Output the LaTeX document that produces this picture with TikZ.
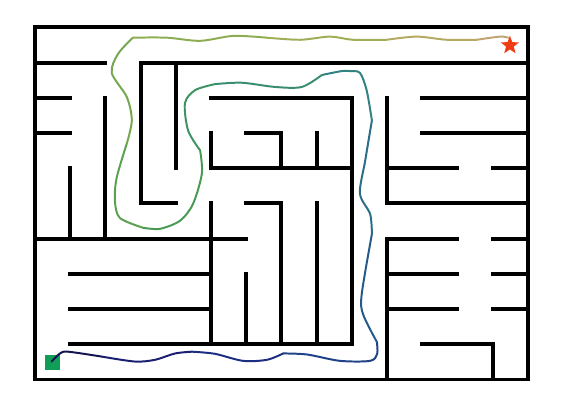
\documentclass[tikz,border=0pt]{standalone}
\usetikzlibrary{shapes.geometric}

% Colours of the route, from the start to the goal
\definecolor{startgreen}{HTML}{0F9D58}
\definecolor{goalred}{HTML}{F03C14}
\definecolor{rA}{HTML}{141450}
\definecolor{rB}{HTML}{1A1F72}
\definecolor{rC}{HTML}{1C2E80}
\definecolor{rD}{HTML}{1F4286}
\definecolor{rE}{HTML}{255A8A}
\definecolor{rF}{HTML}{2C6E8A}
\definecolor{rG}{HTML}{328282}
\definecolor{rH}{HTML}{388D72}
\definecolor{rI}{HTML}{3E9362}
\definecolor{rJ}{HTML}{489A55}
\definecolor{rK}{HTML}{5CA150}
\definecolor{rL}{HTML}{74A850}
\definecolor{rM}{HTML}{8CAD52}
\definecolor{rN}{HTML}{A2AD58}
\definecolor{rO}{HTML}{B4AA62}
\definecolor{rP}{HTML}{C0A572}

\begin{document}
\begin{tikzpicture}[x=1cm, y=-1cm,
    wall/.style={line width=3.2pt, line cap=rect},
    route/.style={line width=1.6pt, line cap=round, line join=round}]

    \useasboundingbox (-0.994,-0.78) rectangle (14.97,10.72);

    % Outer frame of the maze
    \draw[wall] (0,0) rectangle (14,10);

    % Horizontal walls: row/from/to
    \foreach \j/\a/\b in {1/0/2, 1/3/14,
                          2/0/1, 2/5/9, 2/11/14,
                          3/0/1, 3/6/7, 3/11/14,
                          4/5/9, 4/10/12, 4/13/14,
                          5/3/4, 5/6/7, 5/10/14,
                          6/0/6, 6/10/12, 6/13/14,
                          7/1/5, 7/10/12, 7/13/14,
                          8/1/5, 8/10/12, 8/13/14,
                          9/1/9, 9/11/13} {
        \draw[wall] (\a,\j) -- (\b,\j);
    }

    % Vertical walls: column/from/to
    \foreach \i/\a/\b in {1/4/6, 2/2/6, 3/1/5, 4/1/4,
                          5/3/4, 5/5/9, 6/7/9,
                          7/3/4, 7/5/9, 8/3/4, 8/5/9,
                          9/2/9, 10/2/5, 10/6/10, 13/9/10} {
        \draw[wall] (\i,\a) -- (\i,\b);
    }

    % Start square and goal star
    \node[fill=startgreen, minimum size=0.43cm, inner sep=0pt] (start) at (0.5,9.51) {};
    \node[star, star points=5, star point ratio=2.4, fill=goalred,
          minimum size=0.55cm, inner sep=0pt] (goal) at (13.49,0.51) {};

    % The route, in pieces that shade from dark blue to tan
    \draw[route, rA] plot[smooth] coordinates {(0.47,9.49) (0.71,9.26) (0.94,9.21) (1.90,9.35)};
    \draw[route, rB] plot[smooth] coordinates {(1.90,9.35) (2.84,9.49) (3.41,9.44) (3.98,9.26) (4.46,9.21)};
    \draw[route, rC] plot[smooth] coordinates {(4.46,9.21) (5.11,9.27) (5.91,9.47) (6.59,9.44) (7.05,9.26)};
    \draw[route, rD] plot[smooth] coordinates {(7.05,9.26) (7.73,9.29) (8.66,9.47) (9.52,9.47) (9.72,9.27) (9.71,8.93)};
    \draw[route, rE] plot[smooth] coordinates {(9.71,8.93) (9.32,8.15) (9.28,7.58) (9.57,5.87)};
    \draw[route, rF] plot[smooth] coordinates {(9.57,5.87) (9.52,5.30) (9.23,4.72) (9.38,3.78) (9.57,2.64)};
    \draw[route, rG] plot[smooth] coordinates {(9.57,2.64) (9.42,1.78) (9.23,1.29) (8.95,1.24) (8.71,1.24) (8.15,1.35)};
    \draw[route, rH] plot[smooth] coordinates {(8.15,1.35) (7.58,1.69) (6.82,1.69) (5.87,1.57) (5.11,1.61)};
    \draw[route, rI] plot[smooth] coordinates {(5.11,1.61) (4.55,1.78) (4.26,2.15) (4.35,2.93) (4.69,3.49)};
    \draw[route, rJ] plot[smooth] coordinates {(4.69,3.49) (4.74,4.15) (4.49,5.01) (4.12,5.49) (3.55,5.72) (3.07,5.69)};
    \draw[route, rK] plot[smooth] coordinates {(3.07,5.69) (2.41,5.41) (2.27,4.92) (2.32,4.27) (2.61,3.29)};
    \draw[route, rL] plot[smooth] coordinates {(2.61,3.29) (2.75,2.64) (2.61,1.98) (2.18,1.29) (2.36,0.75) (2.78,0.29)};
    \draw[route, rM] plot[smooth] coordinates {(2.78,0.29) (3.74,0.29) (4.69,0.38) (5.63,0.24) (6.58,0.29)};
    \draw[route, rN] plot[smooth] coordinates {(6.58,0.29) (7.53,0.35) (8.38,0.26) (9.03,0.35) (9.99,0.35)};
    \draw[route, rO] plot[smooth] coordinates {(9.99,0.35) (10.84,0.26) (11.70,0.35) (12.55,0.35)};
    \draw[route, rP] plot[smooth] coordinates {(12.55,0.35) (13.21,0.26) (13.44,0.29)};

\end{tikzpicture}
\end{document}
